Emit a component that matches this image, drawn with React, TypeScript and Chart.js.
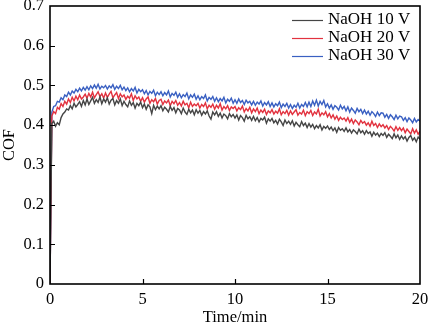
import React, { useEffect, useRef } from "react";
import { Chart, registerables } from "chart.js";

Chart.register(...registerables);

const TIME_MIN = [
  0, 0.1, 0.2, 0.3, 0.4, 0.5, 0.6, 0.7, 0.8, 0.9,
  1, 1.1, 1.2, 1.3, 1.4, 1.5, 1.6, 1.7, 1.8, 1.9,
  2, 2.1, 2.2, 2.3, 2.4, 2.5, 2.6, 2.7, 2.8, 2.9,
  3, 3.1, 3.2, 3.3, 3.4, 3.5, 3.6, 3.7, 3.8, 3.9,
  4, 4.1, 4.2, 4.3, 4.4, 4.5, 4.6, 4.7, 4.8, 4.9,
  5, 5.1, 5.2, 5.3, 5.4, 5.5, 5.6, 5.7, 5.8, 5.9,
  6, 6.1, 6.2, 6.3, 6.4, 6.5, 6.6, 6.7, 6.8, 6.9,
  7, 7.1, 7.2, 7.3, 7.4, 7.5, 7.6, 7.7, 7.8, 7.9,
  8, 8.1, 8.2, 8.3, 8.4, 8.5, 8.6, 8.7, 8.8, 8.9,
  9, 9.1, 9.2, 9.3, 9.4, 9.5, 9.6, 9.7, 9.8, 9.9,
  10, 10.1, 10.2, 10.3, 10.4, 10.5, 10.6, 10.7, 10.8, 10.9,
  11, 11.1, 11.2, 11.3, 11.4, 11.5, 11.6, 11.7, 11.8, 11.9,
  12, 12.1, 12.2, 12.3, 12.4, 12.5, 12.6, 12.7, 12.8, 12.9,
  13, 13.1, 13.2, 13.3, 13.4, 13.5, 13.6, 13.7, 13.8, 13.9,
  14, 14.1, 14.2, 14.3, 14.4, 14.5, 14.6, 14.7, 14.8, 14.9,
  15, 15.1, 15.2, 15.3, 15.4, 15.5, 15.6, 15.7, 15.8, 15.9,
  16, 16.1, 16.2, 16.3, 16.4, 16.5, 16.6, 16.7, 16.8, 16.9,
  17, 17.1, 17.2, 17.3, 17.4, 17.5, 17.6, 17.7, 17.8, 17.9,
  18, 18.1, 18.2, 18.3, 18.4, 18.5, 18.6, 18.7, 18.8, 18.9,
  19, 19.1, 19.2, 19.3, 19.4, 19.5, 19.6, 19.7, 19.8, 19.9,
  20,
];

const COF_10V = [
  0, 0.404, 0.410, 0.397, 0.406, 0.401, 0.419, 0.428, 0.433, 0.441,
  0.438, 0.449, 0.441, 0.455, 0.446, 0.452, 0.459, 0.447, 0.462, 0.451,
  0.466, 0.452, 0.461, 0.470, 0.455, 0.464, 0.457, 0.471, 0.454, 0.466,
  0.458, 0.469, 0.453, 0.463, 0.467, 0.451, 0.462, 0.455, 0.466, 0.449,
  0.460, 0.452, 0.446, 0.461, 0.450, 0.457, 0.443, 0.455, 0.449, 0.458,
  0.444, 0.453, 0.440, 0.451, 0.446, 0.429, 0.450, 0.439, 0.448, 0.441,
  0.449, 0.436, 0.445, 0.440, 0.433, 0.447, 0.437, 0.444, 0.431, 0.442,
  0.438, 0.429, 0.443, 0.433, 0.427, 0.440, 0.431, 0.438, 0.426, 0.439,
  0.430, 0.437, 0.425, 0.434, 0.428, 0.436, 0.423, 0.415, 0.433, 0.426,
  0.434, 0.422, 0.430, 0.418, 0.428, 0.424, 0.416, 0.429, 0.421, 0.427,
  0.418, 0.426, 0.413, 0.424, 0.419, 0.410, 0.425, 0.416, 0.421, 0.412,
  0.422, 0.411, 0.419, 0.408, 0.417, 0.413, 0.420, 0.405, 0.416, 0.410,
  0.417, 0.406, 0.412, 0.403, 0.415, 0.408, 0.399, 0.413, 0.404, 0.410,
  0.402, 0.411, 0.398, 0.407, 0.401, 0.396, 0.409, 0.399, 0.405, 0.394,
  0.404, 0.395, 0.402, 0.391, 0.399, 0.393, 0.401, 0.388, 0.397, 0.392,
  0.398, 0.389, 0.395, 0.386, 0.393, 0.382, 0.394, 0.387, 0.391, 0.384,
  0.393, 0.383, 0.389, 0.380, 0.388, 0.384, 0.378, 0.390, 0.381, 0.386,
  0.377, 0.386, 0.379, 0.383, 0.372, 0.382, 0.375, 0.380, 0.371, 0.379,
  0.374, 0.381, 0.369, 0.377, 0.372, 0.366, 0.378, 0.368, 0.375, 0.364,
  0.373, 0.365, 0.371, 0.360, 0.369, 0.374, 0.362, 0.368, 0.358, 0.370,
  0.364,
];

const COF_20V = [
  0, 0.423, 0.434, 0.429, 0.445, 0.440, 0.454, 0.447, 0.460, 0.453,
  0.466, 0.457, 0.470, 0.461, 0.473, 0.464, 0.476, 0.466, 0.471, 0.478,
  0.468, 0.480, 0.471, 0.483, 0.469, 0.477, 0.484, 0.472, 0.479, 0.468,
  0.481, 0.470, 0.478, 0.485, 0.469, 0.476, 0.482, 0.467, 0.479, 0.471,
  0.476, 0.465, 0.473, 0.468, 0.479, 0.462, 0.474, 0.466, 0.471, 0.460,
  0.469, 0.458, 0.466, 0.471, 0.455, 0.464, 0.459, 0.467, 0.453, 0.462,
  0.465, 0.452, 0.461, 0.456, 0.463, 0.449, 0.460, 0.454, 0.462, 0.450,
  0.457, 0.448, 0.460, 0.451, 0.455, 0.444, 0.458, 0.447, 0.453, 0.449,
  0.455, 0.443, 0.452, 0.447, 0.456, 0.441, 0.450, 0.445, 0.453, 0.440,
  0.450, 0.443, 0.454, 0.438, 0.447, 0.441, 0.449, 0.437, 0.446, 0.442,
  0.447, 0.436, 0.444, 0.439, 0.448, 0.433, 0.442, 0.436, 0.445, 0.431,
  0.441, 0.434, 0.443, 0.429, 0.438, 0.432, 0.440, 0.427, 0.436, 0.431,
  0.439, 0.428, 0.435, 0.430, 0.441, 0.426, 0.434, 0.429, 0.437, 0.425,
  0.436, 0.427, 0.433, 0.439, 0.425, 0.432, 0.428, 0.438, 0.424, 0.434,
  0.429, 0.437, 0.424, 0.433, 0.428, 0.440, 0.423, 0.431, 0.426, 0.434,
  0.421, 0.429, 0.418, 0.426, 0.415, 0.423, 0.412, 0.420, 0.414, 0.418,
  0.410, 0.419, 0.407, 0.415, 0.404, 0.413, 0.408, 0.401, 0.412, 0.405,
  0.409, 0.400, 0.406, 0.397, 0.410, 0.399, 0.404, 0.394, 0.403, 0.396,
  0.401, 0.393, 0.399, 0.389, 0.397, 0.392, 0.385, 0.396, 0.387, 0.394,
  0.386, 0.393, 0.381, 0.390, 0.384, 0.378, 0.391, 0.380, 0.388, 0.377,
  0.385,
];

const COF_30V = [
  0, 0.433, 0.447, 0.449, 0.460, 0.458, 0.469, 0.464, 0.476, 0.472,
  0.483, 0.476, 0.486, 0.481, 0.490, 0.484, 0.493, 0.486, 0.495, 0.488,
  0.497, 0.489, 0.499, 0.492, 0.501, 0.493, 0.503, 0.491, 0.498, 0.494,
  0.500, 0.491, 0.499, 0.494, 0.502, 0.490, 0.498, 0.492, 0.500, 0.489,
  0.496, 0.487, 0.494, 0.484, 0.492, 0.486, 0.495, 0.481, 0.490, 0.484,
  0.489, 0.479, 0.487, 0.476, 0.485, 0.480, 0.488, 0.474, 0.483, 0.477,
  0.484, 0.474, 0.482, 0.476, 0.486, 0.471, 0.480, 0.475, 0.483, 0.470,
  0.479, 0.469, 0.477, 0.472, 0.481, 0.466, 0.476, 0.470, 0.478, 0.465,
  0.474, 0.464, 0.472, 0.467, 0.476, 0.461, 0.470, 0.465, 0.472, 0.460,
  0.469, 0.459, 0.467, 0.461, 0.470, 0.456, 0.465, 0.460, 0.468, 0.455,
  0.464, 0.455, 0.466, 0.457, 0.462, 0.452, 0.463, 0.456, 0.460, 0.451,
  0.460, 0.450, 0.458, 0.453, 0.461, 0.448, 0.457, 0.451, 0.459, 0.447,
  0.456, 0.446, 0.454, 0.449, 0.458, 0.444, 0.453, 0.447, 0.455, 0.443,
  0.452, 0.442, 0.450, 0.445, 0.455, 0.443, 0.452, 0.447, 0.457, 0.446,
  0.458, 0.447, 0.461, 0.450, 0.463, 0.448, 0.460, 0.452, 0.462, 0.446,
  0.454, 0.443, 0.451, 0.440, 0.449, 0.445, 0.438, 0.450, 0.441, 0.447,
  0.436, 0.446, 0.433, 0.443, 0.437, 0.430, 0.442, 0.434, 0.440, 0.429,
  0.438, 0.428, 0.435, 0.425, 0.434, 0.429, 0.422, 0.433, 0.424, 0.431,
  0.430, 0.420, 0.427, 0.417, 0.426, 0.421, 0.414, 0.425, 0.416, 0.423,
  0.421, 0.412, 0.419, 0.409, 0.418, 0.413, 0.406, 0.417, 0.408, 0.414,
  0.410,
];

const SERIES_LABELS = ["NaOH 10 V", "NaOH 20 V", "NaOH 30 V"];
const SERIES_COLORS = ["#454545", "#e2323f", "#3a60c2"];
const X_TICKS = [0, 5, 10, 15, 20];
const Y_TICKS = [0, 0.1, 0.2, 0.3, 0.4, 0.5, 0.6, 0.7];

const FONT = "'Liberation Serif', 'Times New Roman', serif";

const framePlugin = {
  id: "frame",
  afterDatasetsDraw(chart: any) {
    const { ctx, chartArea } = chart;
    const { left, right, top, bottom } = chartArea;
    const xs = chart.scales.x;
    const ys = chart.scales.y;
    ctx.save();
    ctx.strokeStyle = "#000";
    ctx.lineWidth = 1.2;
    ctx.beginPath();
    for (const v of Y_TICKS) {
      if (v === Y_TICKS[0] || v === Y_TICKS[Y_TICKS.length - 1]) continue;
      const py = Math.round(ys.getPixelForValue(v)) + 0.5;
      ctx.moveTo(left, py);
      ctx.lineTo(left + 5, py);
    }
    for (const v of X_TICKS) {
      if (v === X_TICKS[0] || v === X_TICKS[X_TICKS.length - 1]) continue;
      const px = Math.round(xs.getPixelForValue(v)) + 0.5;
      ctx.moveTo(px, bottom);
      ctx.lineTo(px, bottom - 5);
    }
    ctx.stroke();
    ctx.lineWidth = 1.6;
    ctx.strokeRect(left, top, right - left, bottom - top);
    ctx.font = `17px ${FONT}`;
    ctx.textBaseline = "middle";
    ctx.textAlign = "left";
    chart.data.datasets.forEach((ds: any, i: number) => {
      const yy = top + 14 + i * 18;
      ctx.strokeStyle = ds.borderColor;
      ctx.lineWidth = 1.2;
      ctx.beginPath();
      ctx.moveTo(right - 128, yy + 0.5);
      ctx.lineTo(right - 97, yy + 0.5);
      ctx.stroke();
      ctx.fillStyle = "#000";
      ctx.fillText(ds.label, right - 92, yy);
    });
    ctx.restore();
  },
};

export default function App() {
  const ref = useRef<HTMLCanvasElement | null>(null);

  useEffect(() => {
    document.body.style.margin = "0";
    const canvas = ref.current;
    if (!canvas) return;
    const seriesValues = [COF_10V, COF_20V, COF_30V];
    const datasets = seriesValues.map((vals, i) => ({
      label: SERIES_LABELS[i],
      data: TIME_MIN.map((t, k) => ({ x: t, y: vals[k] })),
      borderColor: SERIES_COLORS[i],
      borderWidth: 1.4,
      pointRadius: 0,
      tension: 0,
      fill: false,
      order: i,
    }));
    const chart = new Chart(canvas, {
      type: "line",
      data: { datasets },
      options: {
        animation: false,
        responsive: true,
        maintainAspectRatio: false,
        layout: { padding: { top: 6, right: 10, left: 0, bottom: 0 } },
        plugins: {
          legend: { display: false },
          tooltip: { enabled: false },
        },
        scales: {
          x: {
            type: "linear",
            min: 0,
            max: 20,
            afterBuildTicks: (s: any) => {
              s.ticks = X_TICKS.map((v) => ({ value: v }));
            },
            afterFit: (s: any) => {
              s.height = 43;
              s.paddingLeft = 0;
              s.paddingRight = 0;
            },
            grid: { display: false, drawTicks: false },
            border: { display: false },
            ticks: {
              color: "#000",
              padding: 6,
              maxRotation: 0,
              font: { family: FONT, size: 16.5 },
              callback: (v: any) => String(v),
            },
            title: {
              display: true,
              text: "Time/min",
              color: "#000",
              font: { family: FONT, size: 16.5 },
              padding: { top: 0, bottom: -1 },
            },
          },
          y: {
            min: 0,
            max: 0.7,
            afterBuildTicks: (s: any) => {
              s.ticks = Y_TICKS.map((v) => ({ value: v }));
            },
            afterFit: (s: any) => {
              s.width = 50;
              s.paddingTop = 0;
              s.paddingBottom = 0;
            },
            grid: { display: false, drawTicks: false },
            border: { display: false },
            ticks: {
              color: "#000",
              padding: 6,
              font: { family: FONT, size: 16.5 },
              callback: (v: any) => (v === 0 ? "0" : Number(v).toFixed(1)),
            },
            title: {
              display: true,
              text: "COF",
              color: "#000",
              font: { family: FONT, size: 16.5 },
              padding: { top: 0, bottom: 0 },
            },
          },
        },
      },
      plugins: [framePlugin],
    });
    return () => chart.destroy();
  }, []);

  return (
    <div style={{ position: "fixed", left: 0, top: 0, width: 430, height: 327 }}>
      <canvas ref={ref} />
    </div>
  );
}
